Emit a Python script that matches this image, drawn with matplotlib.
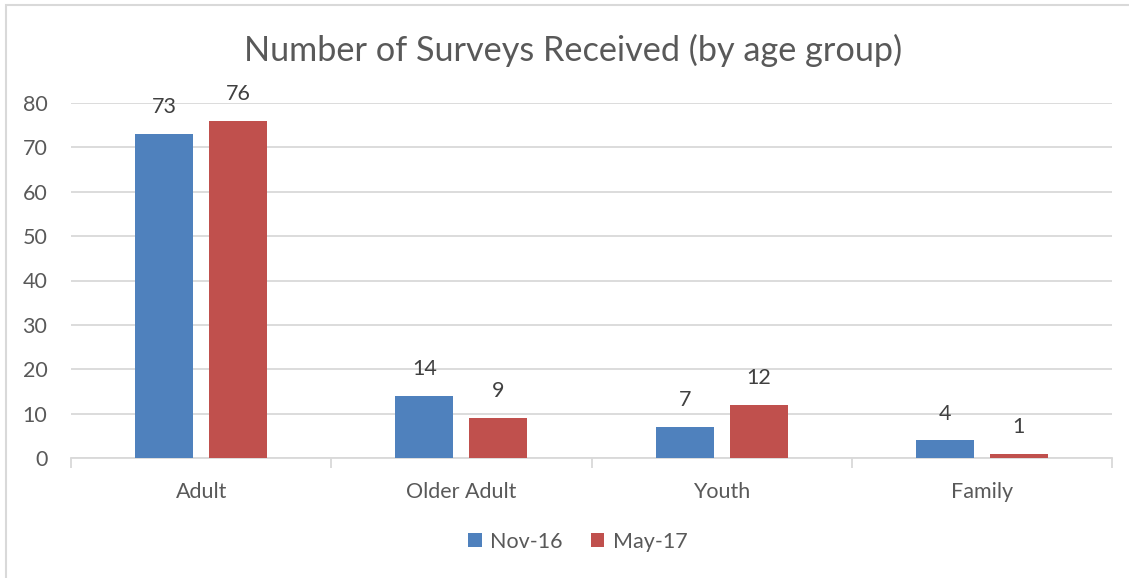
import matplotlib
matplotlib.use("Agg")
import matplotlib.pyplot as plt
import numpy as np
from matplotlib.patches import Rectangle

categories = ["Adult", "Older Adult", "Youth", "Family"]
series_names = ["Nov-16", "May-17"]
nov16 = [73, 14, 7, 4]
may17 = [76, 9, 12, 1]
y_ticks = [0, 10, 20, 30, 40, 50, 60, 70, 80]

colors = ["#4f81bd", "#c0504d"]
text_color = "#595959"
grid_color = "#d9d9d9"

plt.rcParams["font.family"] = ["Lato", "DejaVu Sans"]

fig = plt.figure(figsize=(11.29, 5.78), dpi=100)
ax = fig.add_axes([71 / 1129, 1 - 458 / 578, (1112 - 71) / 1129, (458 - 103) / 578])

x = np.arange(len(categories))
width = 0.223
offset = 0.142
for vals, dx, col, name in [(nov16, -offset, colors[0], series_names[0]),
                            (may17, offset, colors[1], series_names[1])]:
    bars = ax.bar(x + dx, vals, width, color=col, label=name, zorder=3)
    for b, v in zip(bars, vals):
        ax.annotate(str(v), (b.get_x() + b.get_width() / 2, v),
                    xytext=(0, 12), textcoords="offset points",
                    ha="center", va="bottom", fontsize=15.5, color="#404040")

ax.set_xlim(-0.5, len(categories) - 0.5)
ax.set_ylim(0, 80)
ax.set_yticks(y_ticks)
ax.yaxis.grid(True, color=grid_color, linewidth=1.3, zorder=0)
ax.set_axisbelow(True)
for s in ["top", "right", "left"]:
    ax.spines[s].set_visible(False)
ax.spines["bottom"].set_color(grid_color)
ax.spines["bottom"].set_linewidth(1.3)
ax.tick_params(axis="y", length=0, labelsize=15.5, labelcolor=text_color, pad=17)
ax.set_xticks(x)
ax.set_xticklabels(categories)
ax.tick_params(axis="x", length=0, labelsize=15.5, labelcolor=text_color, pad=17)
# category boundary ticks
ax.set_xticks(np.arange(-0.5, len(categories)), minor=True)
ax.tick_params(axis="x", which="minor", length=7, color=grid_color, width=1.3)

fig.text(573 / 1129, 1 - 50 / 578, "Number of Surveys Received (by age group)",
         ha="center", va="center", fontsize=24.7, color=text_color)

leg = fig.legend(loc="center", bbox_to_anchor=(578 / 1129, 1 - 542 / 578), ncol=2,
                 frameon=False, fontsize=15.5, labelcolor=text_color,
                 handlelength=0.62, handleheight=0.62, handletextpad=0.4,
                 columnspacing=1.3)

# outer chart border
fig.patches.append(Rectangle((6 / 1129, -0.05), 1.2, 1 - 5 / 578 + 0.05,
                             transform=fig.transFigure, fill=False,
                             edgecolor=grid_color, linewidth=1.5))

fig.savefig("out.png", dpi=100)
